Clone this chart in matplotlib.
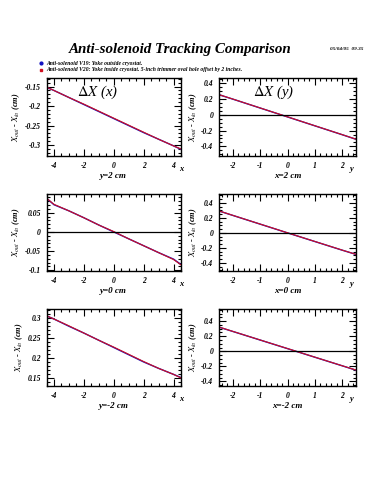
import matplotlib
matplotlib.use("Agg")
import matplotlib.pyplot as plt
from matplotlib.ticker import MultipleLocator

# data
x_left = [-4.5, -4, -3, -2, -1, 0, 1, 2, 3, 4, 4.5]
x_right = [-2.5, -2, -1, 0, 1, 2, 2.5]

dx_y2_v19 = [-0.152, -0.160, -0.178, -0.196, -0.214, -0.232, -0.250, -0.268, -0.285, -0.302, -0.311]
dx_y2_v20 = [-0.151, -0.160, -0.178, -0.195, -0.213, -0.231, -0.249, -0.267, -0.285, -0.302, -0.310]
dx_y0_v19 = [0.088, 0.071, 0.055, 0.037, 0.018, 0.0, -0.018, -0.036, -0.054, -0.071, -0.085]
dx_y0_v20 = [0.088, 0.072, 0.055, 0.037, 0.018, 0.001, -0.018, -0.036, -0.054, -0.072, -0.086]
dx_ym2_v19 = [0.306, 0.298, 0.280, 0.263, 0.245, 0.227, 0.209, 0.191, 0.175, 0.160, 0.152]
dx_ym2_v20 = [0.306, 0.298, 0.281, 0.263, 0.245, 0.228, 0.210, 0.192, 0.175, 0.160, 0.151]

dy_x2_v19 = [0.250, 0.195, 0.083, -0.029, -0.141, -0.253, -0.310]
dy_x2_v20 = [0.251, 0.196, 0.084, -0.028, -0.140, -0.252, -0.309]
dy_x0_v19 = [0.293, 0.234, 0.117, 0.0, -0.116, -0.232, -0.288]
dy_x0_v20 = [0.294, 0.235, 0.118, 0.001, -0.115, -0.231, -0.287]
dy_xm2_v19 = [0.320, 0.263, 0.149, 0.035, -0.079, -0.193, -0.250]
dy_xm2_v20 = [0.321, 0.264, 0.150, 0.036, -0.078, -0.192, -0.249]

row_labels_left = ["y=2 cm", "y=0 cm", "y=-2 cm"]
row_labels_right = ["x=2 cm", "x=0 cm", "x=-2 cm"]

plt.rcParams["mathtext.fontset"] = "stix"
plt.rcParams["axes.unicode_minus"] = False
SERIF = "Liberation Serif"
W, H = 375, 500

fig = plt.figure(figsize=(3.75, 5), dpi=100)


def px_axes(x0, y0, x1, y1):
  return fig.add_axes([x0 / W, 1 - y1 / H, (x1 - x0) / W, (y1 - y0) / H])


def style(ax, xmaj, xmin, ymaj, ymin, fmt):
  ax.xaxis.set_major_locator(MultipleLocator(xmaj))
  ax.xaxis.set_minor_locator(MultipleLocator(xmin))
  ax.yaxis.set_major_locator(MultipleLocator(ymaj))
  ax.yaxis.set_minor_locator(MultipleLocator(ymin))
  ax.tick_params(which="both", direction="in", top=True, right=True, width=0.8)
  ax.tick_params(which="major", length=5)
  ax.tick_params(which="minor", length=2.5)
  ax.tick_params(axis="both", labelsize=5.5, pad=4)
  ax.yaxis.set_major_formatter(plt.FuncFormatter(lambda v, p: fmt(v)))
  ax.xaxis.set_major_formatter(plt.FuncFormatter(lambda v, p: fmt(v)))
  for lab in ax.get_xticklabels() + ax.get_yticklabels():
    lab.set_fontfamily(SERIF)
    lab.set_fontweight("bold")
    lab.set_fontstyle("italic")
  for s in ax.spines.values():
    s.set_linewidth(1.0)


def fmt_num(v):
  if abs(v) < 1e-9:
    return "0"
  return ("%g" % round(v, 3))


left_data = [(dx_y2_v19, dx_y2_v20, (-0.328, -0.128), False),
             (dx_y0_v19, dx_y0_v20, (-0.102, 0.099), True),
             (dx_ym2_v19, dx_ym2_v20, (0.131, 0.323), False)]
right_data = [(dy_x2_v19, dy_x2_v20, (-0.52, 0.46)),
              (dy_x0_v19, dy_x0_v20, (-0.51, 0.52)),
              (dy_xm2_v19, dy_xm2_v20, (-0.46, 0.56))]
rows = [(78, 156), (194, 271), (309, 386)]

ylabel = "$X_{out}$ - $X_{in}$ (cm)"

for i, (y0, y1) in enumerate(rows):
  # left column: Delta X vs x
  ax = px_axes(46.5, y0, 181, y1)
  v19, v20, ylim, zero = left_data[i]
  ax.plot(x_left, v19, color="#1010c0", lw=1.0)
  ax.plot(x_left, v20, color="#d01020", lw=0.8)
  if zero:
    ax.axhline(0, color="black", lw=0.9)
  ax.set_xlim(-4.5, 4.5)
  ax.set_ylim(*ylim)
  style(ax, 2, 0.5, 0.05, 0.01, fmt_num)
  ax.set_xlabel(row_labels_left[i], fontsize=6.5, family=SERIF, fontweight="bold",
                style="italic", labelpad=2)
  ax.set_ylabel(ylabel, fontsize=6, family=SERIF, fontweight="bold", style="italic",
                labelpad=2)
  ax.text(1.0, -0.12, "x", transform=ax.transAxes, fontsize=6, family=SERIF,
          fontweight="bold", style="italic", ha="center", va="top")
  if i == 0:
    ax.text(0.23, 0.81, r"$\Delta X$ (x)", transform=ax.transAxes, fontsize=10.5,
            family=SERIF, style="italic", ha="left", va="center")

  # right column: Delta X vs y
  ax = px_axes(219, y0, 356, y1)
  v19, v20, ylim = right_data[i]
  ax.plot(x_right, v19, color="#1010c0", lw=1.0)
  ax.plot(x_right, v20, color="#d01020", lw=0.8)
  ax.axhline(0, color="black", lw=0.9)
  ax.set_xlim(-2.5, 2.5)
  ax.set_ylim(*ylim)
  style(ax, 1, 0.2, 0.2, 0.05, fmt_num)
  ax.set_xlabel(row_labels_right[i], fontsize=6.5, family=SERIF, fontweight="bold",
                style="italic", labelpad=2)
  ax.set_ylabel(ylabel, fontsize=6, family=SERIF, fontweight="bold", style="italic",
                labelpad=2)
  ax.text(0.97, -0.12, "y", transform=ax.transAxes, fontsize=6, family=SERIF,
          fontweight="bold", style="italic", ha="center", va="top")
  if i == 0:
    ax.text(0.25, 0.81, r"$\Delta X$ (y)", transform=ax.transAxes, fontsize=10.5,
            family=SERIF, style="italic", ha="left", va="center")

# title, date and legend
fig.text(180 / W, 1 - 49 / H, "Anti-solenoid Tracking Comparison", fontsize=10.8,
         family=SERIF, fontweight="bold", style="italic", ha="center", va="center")
fig.text(347 / W, 1 - 49 / H, "05/04/05  09.35", fontsize=3.8,
         family=SERIF, fontweight="bold", style="italic", ha="center", va="center")
fig.text(46 / W, 1 - 63 / H, "Anti-solenoid V19: Yoke outside cryostat.", fontsize=4.1,
         family=SERIF, fontweight="bold", style="italic", ha="left", va="center")
fig.text(46 / W, 1 - 70 / H,
         "Anti-solenoid V20: Yoke inside cryostat. 5-inch trimmer oval hole offset by 2 inches.",
         fontsize=4.1, family=SERIF, fontweight="bold", style="italic", ha="left", va="center")
fig.lines.append(plt.Line2D([41 / W], [1 - 63 / H], marker="o", markersize=2,
                            color="#1010c0", transform=fig.transFigure))
fig.lines.append(plt.Line2D([41 / W], [1 - 70 / H], marker="s", markersize=2,
                            color="#d01020", transform=fig.transFigure))

fig.savefig("out.png", dpi=100)
